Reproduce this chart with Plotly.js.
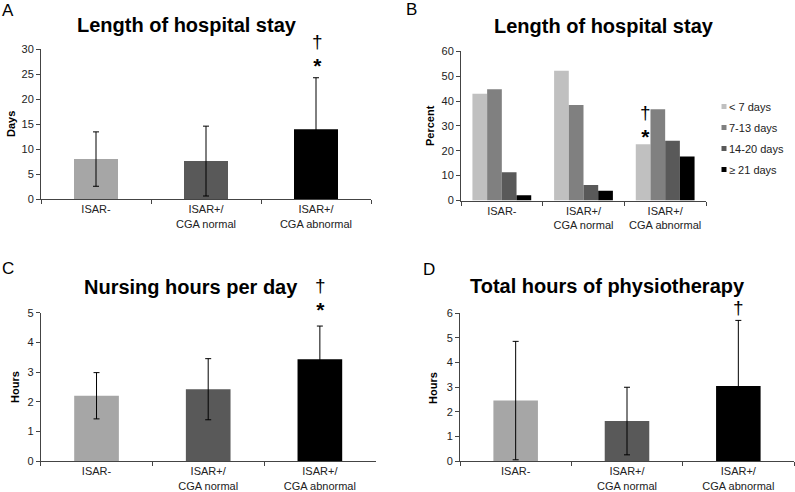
<!DOCTYPE html>
<html>
<head>
<meta charset="utf-8">
<script src="https://cdn.plot.ly/plotly-3.0.1.min.js"></script>
<style>html,body{margin:0;padding:0;background:#fff;}#chart{width:795px;height:492px;}</style>
</head>
<body>
<div id="chart"></div>
<script>
// ---- Data ----
const categories = ['ISAR-', 'ISAR+/<br>CGA normal', 'ISAR+/<br>CGA abnormal'];
const barColors = ['#a6a6a6', '#595959', '#000000'];

// A: Length of hospital stay (days), mean and SD
const losMean = [8.0, 7.6, 14.0];
const losSD = [5.45, 7.0, 10.3];

// B: Length of hospital stay distribution (percent)
const losGroups = ['< 7 days', '7-13 days', '14-20 days', '\u2265 21 days'];
const losGroupColors = ['#c0c0c0', '#808080', '#595959', '#000000'];
const losLt7 = [42.9, 52.2, 22.6];
const los7to13 = [44.7, 38.4, 36.7];
const los14to20 = [11.4, 6.2, 24.0];
const losGe21 = [2.1, 3.9, 17.7];

// C: Nursing hours per day
const nursingMean = [2.2, 2.42, 3.43];
const nursingSD = [0.78, 1.03, 1.12];

// D: Total hours of physiotherapy
const physioMean = [2.45, 1.62, 3.04];
const physioSD = [2.4, 1.37, 2.66];

// ---- Helpers ----
const W = 795, H = 492;
const FONT = 'Liberation Sans, Arial, sans-serif';
function dx(a, b) { return [a / W, b / W]; }
function dy(top, bottom) { return [1 - bottom / H, 1 - top / H]; }

function meanTrace(y, sd, xa, ya) {
  return {
    type: 'bar', x: categories, y: y, xaxis: xa, yaxis: ya, width: 0.4,
    marker: { color: barColors, line: { width: 0 } },
    error_y: { type: 'data', array: sd, visible: true, color: '#000', thickness: 1, width: 3 },
    showlegend: false, hoverinfo: 'y'
  };
}

const traces = [
  meanTrace(losMean, losSD, 'x', 'y'),
  meanTrace(nursingMean, nursingSD, 'x3', 'y3'),
  meanTrace(physioMean, physioSD, 'x4', 'y4')
];
const bSeries = [losLt7, los7to13, los14to20, losGe21];
bSeries.forEach((vals, i) => {
  traces.push({
    type: 'bar', x: categories, y: vals, xaxis: 'x2', yaxis: 'y2',
    name: losGroups[i], legendgroup: 'g' + i,
    marker: { color: losGroupColors[i], line: { width: 0 } },
    showlegend: true, hoverinfo: 'y'
  });
});

function xAxis(dom, anchor) {
  return {
    domain: dom, anchor: anchor, type: 'category', showline: true, linecolor: '#444', linewidth: 1,
    ticks: 'outside', tickson: 'boundaries', ticklen: 4, tickcolor: '#444',
    tickfont: { family: FONT, size: 11, color: '#222' }, showgrid: false, zeroline: false, fixedrange: true
  };
}
function yAxis(dom, anchor, range, dtick) {
  return {
    domain: dom, anchor: anchor, range: range, dtick: dtick, showline: true, linecolor: '#444', linewidth: 1,
    ticks: 'outside', ticklen: 4, tickcolor: '#444', showgrid: false, zeroline: false,
    tickfont: { family: FONT, size: 11, color: '#222' }, fixedrange: true
  };
}

function label(text, x, y, size, bold, angle) {
  return { xref: 'paper', yref: 'paper', x: x / W, y: 1 - y / H, xanchor: 'center', yanchor: 'middle',
    text: bold ? '<b>' + text + '</b>' : text, showarrow: false, textangle: angle || 0,
    font: { family: FONT, size: size, color: '#000' } };
}
// significance marks above a category (dagger, optionally with asterisk below it)
function mark(withStar, xa, cat, ypx, xshift) {
  const text = withStar ? '\u2020<br><b><span style="font-size:21px">*</span></b>' : '\u2020';
  return { xref: xa, yref: 'paper', x: cat, y: 1 - ypx / H, xanchor: 'center', yanchor: 'middle', xshift: xshift || 0,
    text: text, showarrow: false, align: 'center',
    font: { family: FONT, size: 19, color: '#000' } };
}

const layout = {
  width: W, height: H, margin: { l: 0, r: 0, t: 0, b: 0 },
  paper_bgcolor: '#fff', plot_bgcolor: 'rgba(0,0,0,0)',
  font: { family: FONT, color: '#000' },
  barmode: 'group', bargap: 0.28, bargroupgap: 0,
  xaxis: xAxis(dx(41, 371), 'y'),
  yaxis: yAxis(dy(49.3, 199), 'x', [0, 30], 5),
  xaxis2: xAxis(dx(461, 706), 'y2'),
  yaxis2: yAxis(dy(51.3, 200.5), 'x2', [0, 60], 10),
  xaxis3: xAxis(dx(40.7, 375.7), 'y3'),
  yaxis3: yAxis(dy(312.7, 461), 'x3', [0, 5], 1),
  xaxis4: xAxis(dx(460, 794), 'y4'),
  yaxis4: yAxis(dy(313, 461), 'x4', [0, 6], 1),
  legend: {
    x: 689 / W, y: 1 - 92 / H, xanchor: 'left', yanchor: 'top',
    font: { family: FONT, size: 11, color: '#222' }, bgcolor: 'rgba(0,0,0,0)',
    itemwidth: 30, tracegroupgap: 2, traceorder: 'grouped'
  },
  annotations: [
    label('A', 8, 11, 17, false),
    label('B', 411, 9, 17, false),
    label('C', 8, 268, 17, false),
    label('D', 429, 269, 17, false),
    label('Length of hospital stay', 187, 25, 20, true),
    label('Length of hospital stay', 604, 26, 20, true),
    label('Nursing hours per day', 191, 287, 20, true),
    label('Total hours of physiotherapy', 607, 286, 20, true),
    label('Days', 11, 124, 11, true, -90),
    label('Percent', 430, 126, 11, true, -90),
    label('Hours', 15, 387, 11, true, -90),
    label('Hours', 433, 388, 11, true, -90),
    mark(true, 'x', categories[2], 53.5, 1),
    mark(true, 'x2', categories[2], 124.5, -20),
    mark(true, 'x3', categories[2], 298, 1),
    mark(false, 'x4', categories[2], 307, 0)
  ]
};

Plotly.newPlot('chart', traces, layout, { staticPlot: true, displayModeBar: false }).then(gd => {
  // shrink legend swatches to small squares next to the text, as in the reference
  document.querySelectorAll('.legend .legendpoints path').forEach(p => {
    p.setAttribute('d', 'M17.5,2.5H12.5V-2.5H17.5Z');
  });
});
</script>
</body>
</html>
